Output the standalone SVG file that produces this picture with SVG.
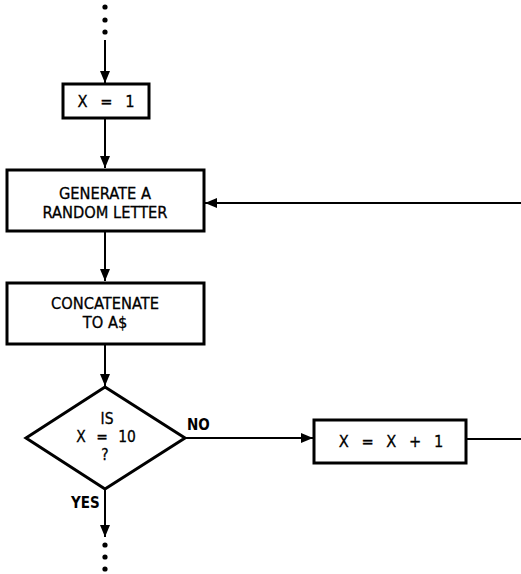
<svg xmlns="http://www.w3.org/2000/svg" width="521" height="574" viewBox="0 0 521 574">
<defs>
<marker id="ah" viewBox="0 0 12 10" refX="12" refY="5" markerWidth="12" markerHeight="10" markerUnits="userSpaceOnUse" orient="auto">
<path d="M0,0 L12,5 L0,10 Z" fill="#000"/>
</marker>
</defs>
<style>
.box{fill:#fff;stroke:#000;stroke-width:3}
.ln{fill:none;stroke:#000;stroke-width:2}
.t{font-family:"DejaVu Sans Condensed","Liberation Sans Narrow",sans-serif;font-size:16.3px;text-anchor:middle;fill:#000;stroke:#000;stroke-width:0.3}
.d{font-family:"DejaVu Sans Condensed","Liberation Sans Narrow",sans-serif;font-size:15.4px;text-anchor:middle;fill:#000;stroke:#000;stroke-width:0.3}
.b{font-family:"DejaVu Sans Condensed","Liberation Sans Narrow",sans-serif;font-size:15px;font-weight:bold;fill:#000}
</style>
<rect width="521" height="574" fill="#fff"/>
<g id="connectors">
<circle cx="105" cy="7" r="2.6"/>
<circle cx="105" cy="20" r="2.6"/>
<circle cx="105" cy="32" r="2.6"/>
<line class="ln" x1="105" y1="40" x2="105" y2="83" marker-end="url(#ah)"/>
<line class="ln" x1="105" y1="118" x2="105" y2="168" marker-end="url(#ah)"/>
<line class="ln" x1="521" y1="203" x2="205" y2="203" marker-end="url(#ah)"/>
<line class="ln" x1="105" y1="231" x2="105" y2="281" marker-end="url(#ah)"/>
<line class="ln" x1="105" y1="344" x2="105" y2="386" marker-end="url(#ah)"/>
<line class="ln" x1="185" y1="438" x2="313" y2="438" marker-end="url(#ah)"/>
<line class="ln" x1="466" y1="439" x2="521" y2="439"/>
<line class="ln" x1="105" y1="489" x2="105" y2="537" marker-end="url(#ah)"/>
<circle cx="105" cy="545" r="2.6"/>
<circle cx="105" cy="557" r="2.6"/>
<circle cx="105" cy="569" r="2.6"/>
<text class="b" x="187" y="430">NO</text>
<text class="b" x="71" y="508">YES</text>
</g>
<g id="n_x1">
<rect class="box" x="63" y="84" width="86" height="34"/>
<text class="t" x="106" y="107" word-spacing="8">X = 1</text>
</g>
<g id="n_generate">
<rect class="box" x="7" y="170" width="197" height="61"/>
<text class="t" x="105" y="199">GENERATE A</text>
<text class="t" x="105" y="218">RANDOM LETTER</text>
</g>
<g id="n_concat">
<rect class="box" x="7" y="283" width="197" height="61"/>
<text class="t" x="105" y="309">CONCATENATE</text>
<text class="t" x="105" y="328">TO A$</text>
</g>
<g id="n_decision">
<polygon class="box" points="105,387 185,438 105,489 26,438"/>
<text class="d" x="107" y="424">IS</text>
<text class="d" x="106" y="442" word-spacing="6">X = 10</text>
<text class="d" x="105" y="460">?</text>
</g>
<g id="n_incr">
<rect class="box" x="314" y="420" width="152" height="43"/>
<text class="t" x="391" y="447" word-spacing="8">X = X + 1</text>
</g>
</svg>
